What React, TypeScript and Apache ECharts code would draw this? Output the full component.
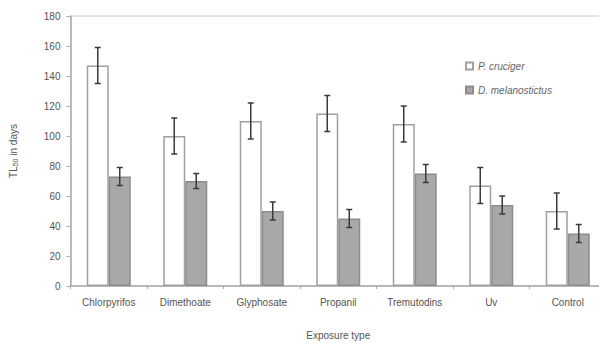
import React, { useEffect, useRef } from "react";
import * as echarts from "echarts";

const categories = ["Chlorpyrifos", "Dimethoate", "Glyphosate", "Propanil", "Tremutodins", "Uv", "Control"];
const pCruciger = [147, 100, 110, 115, 108, 67, 50];
const pCrucigerErr = [12, 12, 12, 12, 12, 12, 12];
const dMelanostictus = [73, 70, 50, 45, 75, 54, 35];
const dMelanostictusErr = [6, 5, 6, 6, 6, 6, 6];
const seriesNames = ["P. cruciger", "D. melanostictus"];

const BAR_W = 22;
const FONT = "'Liberation Sans', Arial, sans-serif";

function errorSeries(values: number[], errs: number[], offset: number) {
  return {
    type: "custom",
    silent: true,
    z: 10,
    data: values.map((v, i) => [i, v - errs[i], v + errs[i]]),
    renderItem: (params: any, api: any) => {
      const i = api.value(0);
      const lo = api.coord([i, api.value(1)]);
      const hi = api.coord([i, api.value(2)]);
      const x = lo[0] + offset;
      const cap = 3;
      const st = { stroke: "#3a3a3a", lineWidth: 1.5 };
      return {
        type: "group",
        children: [
          { type: "line", shape: { x1: x, y1: lo[1], x2: x, y2: hi[1] }, style: st },
          { type: "line", shape: { x1: x - cap, y1: lo[1], x2: x + cap, y2: lo[1] }, style: st },
          { type: "line", shape: { x1: x - cap, y1: hi[1], x2: x + cap, y2: hi[1] }, style: st },
        ],
      };
    },
  };
}

export default function App() {
  const ref = useRef<HTMLDivElement>(null);
  useEffect(() => {
    if (!ref.current) return;
    const chart = echarts.init(ref.current, null, { renderer: "svg" });
    chart.setOption({
      animation: false,
      backgroundColor: "#fff",
      textStyle: { fontFamily: FONT },
      grid: {
        left: 70,
        right: 1,
        top: 16,
        bottom: 64,
        show: true,
        borderColor: "#c8c8c8",
        borderWidth: 1,
      },
      legend: {
        orient: "vertical",
        left: 460,
        top: 56,
        itemGap: 14,
        itemWidth: 7,
        itemHeight: 7,
        icon: "rect",
        textStyle: { fontSize: 10, color: "#666", fontStyle: "italic", fontFamily: FONT },
        data: seriesNames,
      },
      xAxis: {
        type: "category",
        data: categories,
        name: "Exposure type",
        nameLocation: "middle",
        nameGap: 44,
        nameTextStyle: { fontSize: 10, color: "#555" },
        axisLine: { lineStyle: { color: "#aaa", width: 1.5 } },
        axisTick: { show: true, length: 3, lineStyle: { color: "#aaa" } },
        axisLabel: { fontSize: 10, color: "#555", margin: 11, interval: 0 },
      },
      yAxis: {
        type: "value",
        min: 0,
        max: 180,
        interval: 20,
        name: "{a|TL}{b|50}{a| in days}",
        nameLocation: "middle",
        nameGap: 52,
        nameTextStyle: {
          color: "#555",
          rich: {
            a: { fontSize: 10, color: "#555", fontFamily: FONT },
            b: { fontSize: 7, color: "#555", fontFamily: FONT, verticalAlign: "bottom", padding: [4, 0, 0, 0] },
          },
        },
        axisLine: { show: true, lineStyle: { color: "#aaa", width: 1.5 } },
        axisTick: { show: true, length: 4, lineStyle: { color: "#aaa" } },
        axisLabel: { fontSize: 10, color: "#555", margin: 10 },
        splitLine: { show: false },
      },
      series: [
        {
          name: seriesNames[0],
          type: "bar",
          data: pCruciger,
          barWidth: BAR_W,
          barGap: "0%",
          itemStyle: { color: "#ffffff", borderColor: "#a0a0a0", borderWidth: 1.5 },
        },
        {
          name: seriesNames[1],
          type: "bar",
          data: dMelanostictus,
          barWidth: BAR_W,
          barGap: "0%",
          itemStyle: { color: "#a8a8a8", borderColor: "#8c8c8c", borderWidth: 1.5 },
        },
        errorSeries(pCruciger, pCrucigerErr, -BAR_W / 2),
        errorSeries(dMelanostictus, dMelanostictusErr, BAR_W / 2),
      ],
    });
    return () => chart.dispose();
  }, []);
  return <div ref={ref} style={{ width: 607, height: 350, margin: -8 }} />;
}
